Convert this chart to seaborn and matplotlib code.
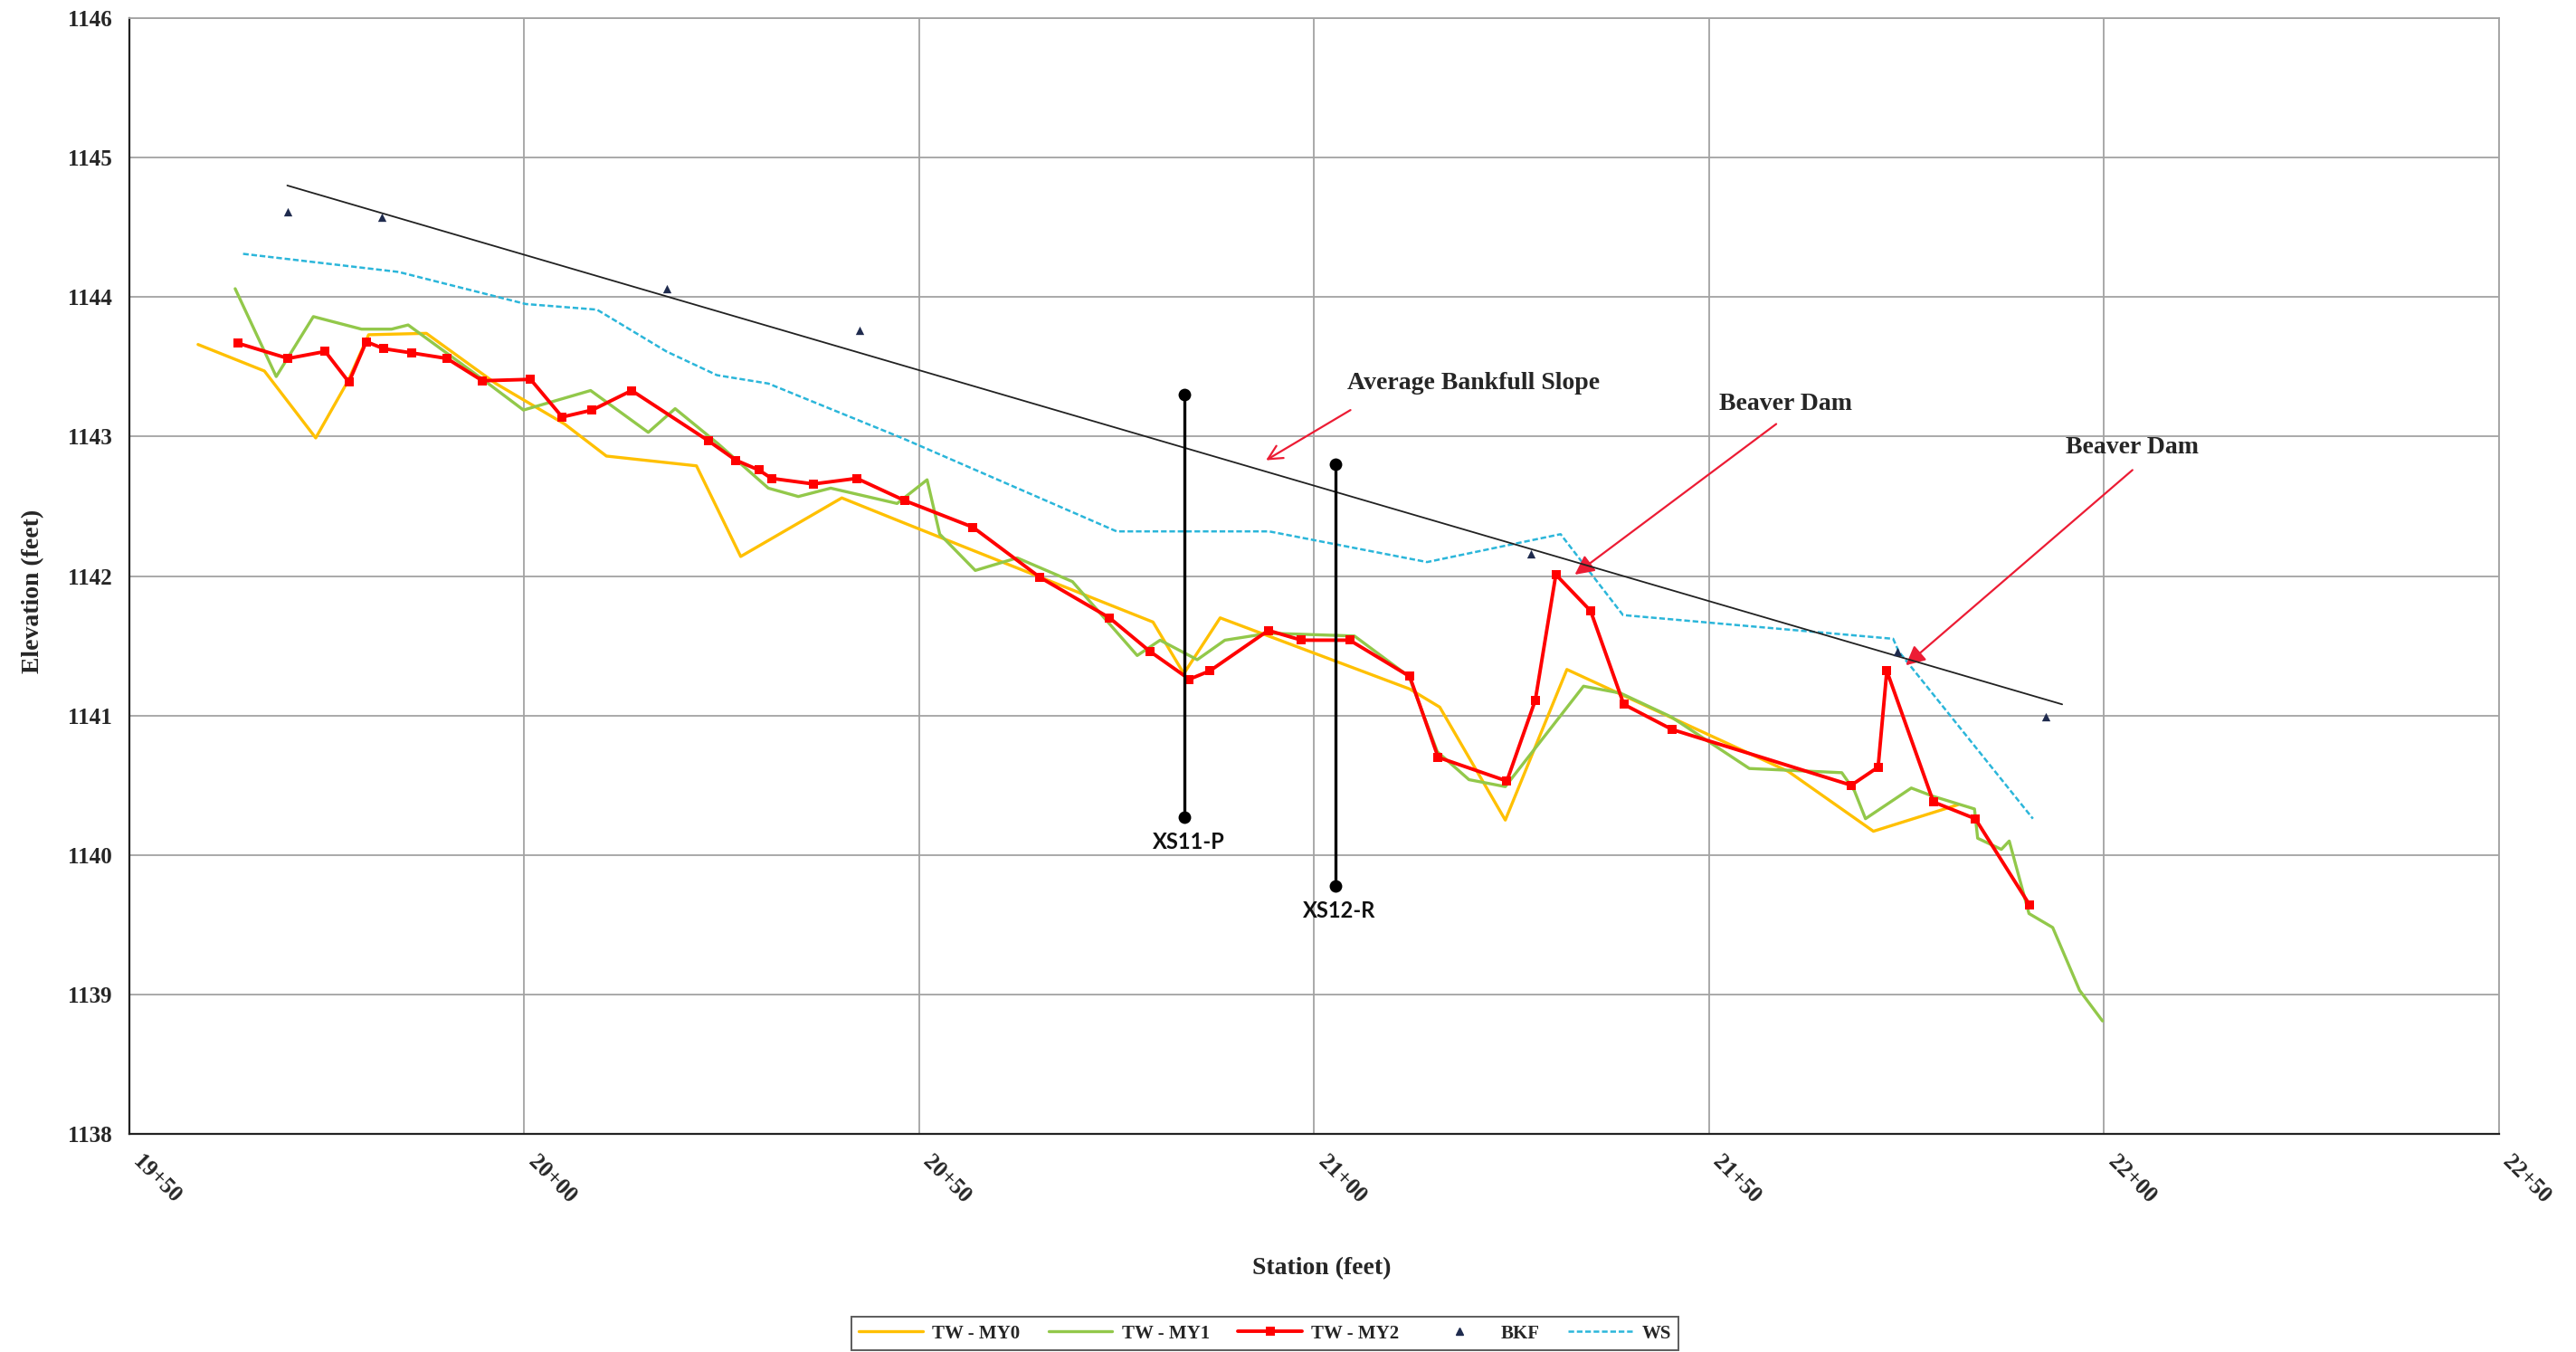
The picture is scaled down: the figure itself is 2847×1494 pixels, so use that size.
import matplotlib
matplotlib.use("Agg")
import matplotlib.pyplot as plt
from matplotlib.lines import Line2D
from matplotlib.ticker import FuncFormatter
import seaborn as sns

# ---- Thalweg profiles (station in ft, elevation in ft) ----
my0_station = [1958.7, 1967.1, 1973.6, 1977.7, 1980.3, 1987.6, 1996.4, 2005.1, 2010.4,
               2021.8, 2027.4, 2040.2, 2048.1, 2079.6, 2083.5, 2088.1, 2112.1, 2115.9,
               2124.2, 2132.0, 2145.8, 2160.0, 2170.8, 2181.5]
my0_elev = [1143.66, 1143.47, 1142.99, 1143.40, 1143.73, 1143.74, 1143.38, 1143.09, 1142.86,
            1142.79, 1142.14, 1142.56, 1142.38, 1141.67, 1141.30, 1141.70, 1141.19, 1141.06,
            1140.25, 1141.33, 1140.97, 1140.60, 1140.17, 1140.36]

my1_station = [1963.4, 1968.6, 1973.3, 1979.4, 1983.2, 1985.3, 1994.5, 1999.9, 2008.4,
               2015.7, 2019.1, 2024.5, 2030.9, 2034.7, 2038.8, 2047.2, 2051.0, 2052.6,
               2057.1, 2062.4, 2069.4, 2077.6, 2080.5, 2085.2, 2088.7, 2094.3, 2105.1,
               2112.0, 2115.6, 2119.6, 2124.2, 2134.1, 2138.8, 2145.2, 2155.1, 2166.8,
               2168.4, 2169.8, 2175.6, 2178.4, 2183.6, 2184.0, 2187.0, 2188.0, 2190.5,
               2193.5, 2196.9, 2199.8]
my1_elev = [1144.06, 1143.43, 1143.86, 1143.77, 1143.77, 1143.80, 1143.42, 1143.19, 1143.33,
            1143.03, 1143.20, 1142.95, 1142.63, 1142.57, 1142.63, 1142.52, 1142.69, 1142.30,
            1142.04, 1142.13, 1141.96, 1141.43, 1141.54, 1141.40, 1141.54, 1141.59, 1141.57,
            1141.28, 1140.74, 1140.54, 1140.49, 1141.21, 1141.16, 1140.99, 1140.62, 1140.59,
            1140.46, 1140.26, 1140.48, 1140.42, 1140.33, 1140.12, 1140.04, 1140.10, 1139.58,
            1139.48, 1139.03, 1138.81]

my2_station = [1963.7, 1970.1, 1974.8, 1977.8, 1980.0, 1982.2, 1985.7, 1990.2, 1994.7,
               2000.8, 2004.8, 2008.6, 2013.6, 2023.3, 2026.8, 2029.7, 2031.3, 2036.6,
               2042.1, 2048.2, 2056.8, 2065.3, 2074.1, 2079.2, 2084.2, 2086.8, 2094.2,
               2098.4, 2104.5, 2112.1, 2115.7, 2124.4, 2128.0, 2130.6, 2135.0, 2139.2,
               2145.3, 2168.0, 2171.4, 2172.5, 2178.4, 2183.7, 2190.6]
my2_elev = [1143.67, 1143.56, 1143.61, 1143.39, 1143.68, 1143.63, 1143.60, 1143.56, 1143.40,
            1143.41, 1143.14, 1143.19, 1143.33, 1142.97, 1142.83, 1142.76, 1142.70, 1142.66,
            1142.70, 1142.54, 1142.35, 1141.99, 1141.70, 1141.46, 1141.26, 1141.32, 1141.61,
            1141.54, 1141.54, 1141.28, 1140.70, 1140.53, 1141.11, 1142.01, 1141.75, 1141.08,
            1140.90, 1140.50, 1140.63, 1141.32, 1140.38, 1140.26, 1139.64]

# ---- Bankfull points and water surface ----
bkf_station = [1970.0, 1982.0, 2018.0, 2042.4, 2127.4, 2173.8, 2192.6]
bkf_elev = [1144.61, 1144.57, 1144.06, 1143.76, 1142.16, 1141.46, 1140.99]

ws_station = [1964.4, 1984.1, 2000.2, 2009.2, 2018.0, 2024.4, 2030.9, 2047.8, 2075.0,
              2094.3, 2114.3, 2131.2, 2139.1, 2173.3, 2174.0, 2191.0]
ws_elev = [1144.31, 1144.18, 1143.95, 1143.91, 1143.61, 1143.44, 1143.38, 1142.99, 1142.32,
           1142.32, 1142.10, 1142.30, 1141.72, 1141.55, 1141.46, 1140.26]

# ---- Average bankfull slope (end points) ----
slope_station = [1970.0, 2194.7]
slope_elev = [1144.80, 1141.08]

# ---- Cross sections: name, station, bottom, top ----
xs_names = ["XS11-P", "XS12-R"]
xs_station = [2083.6, 2102.7]
xs_bottom = [1140.27, 1139.78]
xs_top = [1143.30, 1142.80]

x_ticks = [1950, 2000, 2050, 2100, 2150, 2200, 2250]
y_ticks = [1138, 1139, 1140, 1141, 1142, 1143, 1144, 1145, 1146]

sns.set_style("white")
plt.rcParams["font.family"] = ["Liberation Serif", "DejaVu Serif"]

fig, ax = plt.subplots(figsize=(28.47, 14.94), dpi=100)
fig.subplots_adjust(left=0.0502, right=0.9701, top=0.9866, bottom=0.1613)

ax.set_xlim(x_ticks[0], x_ticks[-1])
ax.set_ylim(y_ticks[0], y_ticks[-1])
ax.set_xticks(x_ticks)
ax.set_yticks(y_ticks)
ax.grid(True, color="#a3a3a3", lw=1.3)
ax.set_axisbelow(True)

c_my0, c_my1, c_my2 = "#FFC000", "#92C84A", "#FF0000"
c_bkf, c_ws = "#1F2B4E", "#2BB6DA"

sns.lineplot(x=my0_station, y=my0_elev, color=c_my0, lw=2.4, sort=False,
             estimator=None, ax=ax, legend=False, zorder=3)
sns.lineplot(x=my1_station, y=my1_elev, color=c_my1, lw=2.4, sort=False,
             estimator=None, ax=ax, legend=False, zorder=3)
sns.lineplot(x=ws_station, y=ws_elev, color=c_ws, lw=1.8, sort=False,
             estimator=None, ax=ax, legend=False, dashes=False, zorder=3,
             linestyle=(0, (2.5, 1.2)))
sns.lineplot(x=slope_station, y=slope_elev, color="#222222", lw=1.3, sort=False,
             estimator=None, ax=ax, legend=False, zorder=4)
sns.lineplot(x=my2_station, y=my2_elev, color=c_my2, lw=2.8, sort=False,
             estimator=None, ax=ax, legend=False, zorder=5,
             marker="s", markersize=6.5, markeredgewidth=0, markerfacecolor=c_my2)
sns.scatterplot(x=bkf_station, y=bkf_elev, marker="^", color=c_bkf, s=45,
                linewidth=0, ax=ax, legend=False, zorder=6)

# cross-section markers
for name, s, lo, hi in zip(xs_names, xs_station, xs_bottom, xs_top):
    sns.lineplot(x=[s, s], y=[lo, hi], color="black", lw=2.4, sort=False,
                 estimator=None, ax=ax, legend=False, zorder=7,
                 marker="o", markersize=10, markeredgewidth=0)
    ax.text(s + 0.5, lo - 0.18, name, ha="center", va="center", fontsize=17,
            fontweight="bold", family=["Lato", "DejaVu Sans"], color="#111111")

# annotations
arrow_red = "#EC1C34"
ax.annotate("", xy=(2093.9, 1142.83), xytext=(2104.6, 1143.19),
            arrowprops=dict(arrowstyle="->", color=arrow_red, lw=1.6,
                            mutation_scale=28, shrinkA=0, shrinkB=0))
ax.text(2104.2, 1143.38, "Average Bankfull Slope", ha="left", va="center",
        fontsize=20, fontweight="bold")

ax.annotate("", xy=(2133.0, 1142.01), xytext=(2158.5, 1143.09),
            arrowprops=dict(arrowstyle="-|>", color=arrow_red, lw=1.6,
                            mutation_scale=32, shrinkA=0, shrinkB=0))
ax.text(2151.3, 1143.23, "Beaver Dam", ha="left", va="center",
        fontsize=20, fontweight="bold")

ax.annotate("", xy=(2174.9, 1141.36), xytext=(2203.6, 1142.76),
            arrowprops=dict(arrowstyle="-|>", color=arrow_red, lw=1.6,
                            mutation_scale=32, shrinkA=0, shrinkB=0))
ax.text(2195.2, 1142.92, "Beaver Dam", ha="left", va="center",
        fontsize=20, fontweight="bold")

# axes styling
for side in ("left", "bottom"):
    ax.spines[side].set_color("#222222")
    ax.spines[side].set_linewidth(1.6)
for side in ("top", "right"):
    ax.spines[side].set_color("#a3a3a3")
    ax.spines[side].set_linewidth(1.3)

ax.xaxis.set_major_formatter(FuncFormatter(lambda v, p: f"{int(round(v)) // 100}+{int(round(v)) % 100:02d}"))
ax.tick_params(axis="both", direction="out", length=8, width=1.4, color="#222222",
               labelsize=18, pad=6)
for lab in ax.get_yticklabels():
    lab.set_fontweight("bold")
for lab in ax.get_xticklabels():
    lab.set_fontweight("bold")
    lab.set_rotation(-45)
    lab.set_ha("left")
    lab.set_va("top")

ax.set_xlabel("Station (feet)", fontsize=20, fontweight="bold")
ax.set_ylabel("Elevation (feet)", fontsize=20, fontweight="bold")
ax.xaxis.set_label_coords(0.503, -0.11)
ax.yaxis.set_label_coords(-0.036, 0.486)

handles = [
    Line2D([], [], color=c_my0, lw=2.4),
    Line2D([], [], color=c_my1, lw=2.4),
    Line2D([], [], color=c_my2, lw=2.8, marker="s", markersize=6.5, markeredgewidth=0),
    Line2D([], [], color=c_bkf, lw=0, marker="^", markersize=6),
    Line2D([], [], color=c_ws, lw=1.8, linestyle=(0, (2.5, 1.2))),
]
labels = ["TW - MY0", "TW - MY1", "TW - MY2", "BKF", "WS"]
leg = fig.legend(handles, labels, loc="lower center", bbox_to_anchor=(0.491, 0.0),
                 ncol=5, frameon=True, fancybox=False, edgecolor="#333333",
                 prop={"family": "Liberation Serif", "weight": "bold", "size": 15},
                 handlelength=3.4, handletextpad=0.5, columnspacing=1.5,
                 borderpad=0.4, borderaxespad=0.1)
leg.get_frame().set_linewidth(1.4)

fig.savefig("out.png", dpi=100, facecolor="white")
